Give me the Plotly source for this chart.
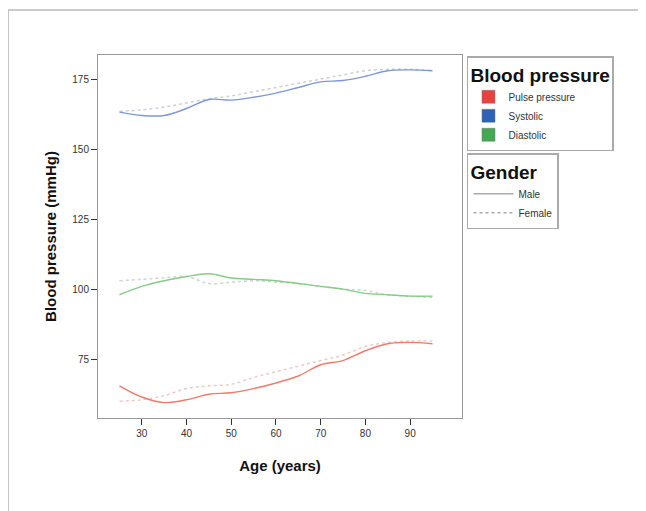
import plotly.graph_objects as go

age = [25, 30, 35, 40, 45, 50, 55, 60, 65, 70, 75, 80, 85, 90, 95]

systolic_male = [163.2, 162.0, 162.0, 164.5, 167.7, 167.5, 168.5, 170.0, 172.0, 174.0, 174.5, 176.0, 178.0, 178.3, 178.0]
systolic_female = [163.5, 164.0, 165.0, 166.5, 168.0, 169.0, 170.5, 172.0, 173.5, 175.0, 176.5, 178.0, 178.5, 178.5, 178.0]
diastolic_male = [98.0, 101.0, 103.0, 104.5, 105.5, 104.0, 103.5, 103.0, 102.0, 101.0, 100.0, 98.5, 98.0, 97.5, 97.5]
diastolic_female = [103.0, 103.5, 104.0, 104.5, 102.0, 102.5, 103.0, 102.5, 102.0, 101.0, 100.0, 99.5, 98.0, 97.5, 97.0]
pulse_male = [65.5, 61.5, 59.5, 60.5, 62.5, 63.0, 64.5, 66.5, 69.0, 73.0, 74.5, 78.0, 80.5, 81.0, 80.5]
pulse_female = [60.0, 60.5, 62.0, 64.5, 65.5, 66.0, 68.5, 70.5, 72.5, 74.5, 76.5, 79.5, 81.0, 81.5, 81.5]

bp_names = ["Pulse pressure", "Systolic", "Diastolic"]
gender_names = ["Male", "Female"]
x_ticks = [30, 40, 50, 60, 70, 80, 90]
y_ticks = [75, 100, 125, 150, 175]

fig = go.Figure()

series = [
    (systolic_male, systolic_female, "rgb(125,152,215)", "rgb(205,207,218)"),
    (diastolic_male, diastolic_female, "rgb(135,202,138)", "rgb(203,215,203)"),
    (pulse_male, pulse_female, "rgb(238,122,108)", "rgb(235,203,200)"),
]
for m, f, cm, cf in series:
    fig.add_trace(go.Scatter(x=age, y=f, mode="lines", line=dict(color=cf, width=1.5, dash="dot", shape="spline"),
                             showlegend=False, hoverinfo="skip"))
    fig.add_trace(go.Scatter(x=age, y=m, mode="lines", line=dict(color=cm, width=1.4, shape="spline"),
                             showlegend=False, hoverinfo="skip"))

legend_colors = ["#e8423f", "#2e62b5", "#45a852"]
for name, c in zip(bp_names, legend_colors):
    fig.add_trace(go.Scatter(x=[None], y=[None], mode="markers", name=name,
                             marker=dict(symbol="square", size=13, color=c, line=dict(color="#777", width=0.5)),
                             legend="legend"))

for name, d in zip(gender_names, ["solid", "dot"]):
    fig.add_trace(go.Scatter(x=[None], y=[None], mode="lines", name=name,
                             line=dict(color="#aaaaaa", width=1.5, dash=d), legend="legend2"))

fig.update_layout(
    width=638, height=503,
    margin=dict(l=90, r=184, t=47, b=93),
    paper_bgcolor="white", plot_bgcolor="white",
    font=dict(family="Liberation Sans, Arial", color="#222"),
    xaxis=dict(range=[20.2, 101.6], tickvals=x_ticks, ticks="outside", ticklen=6, tickcolor="#333",
               showgrid=False, zeroline=False, showline=True, linecolor="#999", mirror=True, linewidth=1,
               tickfont=dict(size=10, color="#333"),
               title=dict(text="<b>Age (years)</b>", font=dict(size=15, color="#111"), standoff=22)),
    yaxis=dict(range=[54, 183.6], tickvals=y_ticks, ticks="outside", ticklen=6, tickcolor="#333",
               showgrid=False, zeroline=False, showline=True, linecolor="#999", mirror=True, linewidth=1,
               tickfont=dict(size=10, color="#333"),
               title=dict(text="<b>Blood pressure (mmHg)</b>", font=dict(size=15, color="#111"), standoff=12)),
    legend=dict(x=1.0137, y=0.997, xanchor="left", yanchor="top", bordercolor="#aaa", borderwidth=1.5,
                title=dict(text="<b>Blood pressure</b>", font=dict(size=19, color="#111")),
                font=dict(size=10, color="#333"), itemwidth=30, tracegroupgap=0),
    legend2=dict(x=1.0137, y=0.730, xanchor="left", yanchor="top", bordercolor="#aaa", borderwidth=1.5,
                 title=dict(text="<b>Gender</b>", font=dict(size=19, color="#111")),
                 font=dict(size=10, color="#333"), itemwidth=40),
    shapes=[dict(type="rect", xref="paper", yref="paper", x0=-0.247, x1=2.0, y0=-1.0, y1=1.124,
                 line=dict(color="#bbb", width=1.5), layer="below")],
)

fig.write_html("out.html")
